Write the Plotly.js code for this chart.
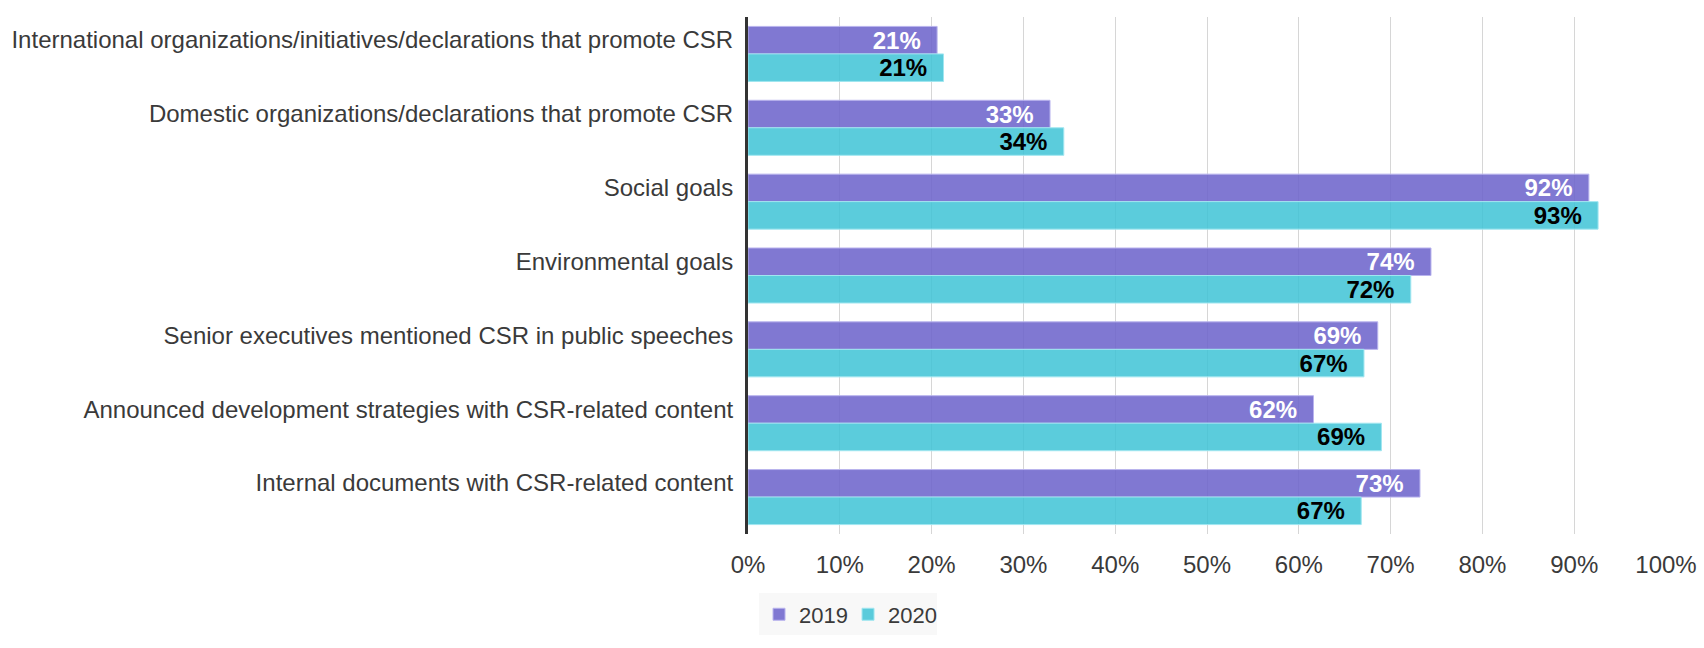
<!DOCTYPE html>
<html>
<head>
<meta charset="utf-8">
<script src="https://cdn.plot.ly/plotly-3.0.1.min.js"></script>
<style>html,body{margin:0;padding:0;background:#fff;}#chart{width:1704px;height:648px;}</style>
</head>
<body>
<div id="chart"></div>
<script>
const categories = [
  "International organizations/initiatives/declarations that promote CSR",
  "Domestic organizations/declarations that promote CSR",
  "Social goals",
  "Environmental goals",
  "Senior executives mentioned CSR in public speeches",
  "Announced development strategies with CSR-related content",
  "Internal documents with CSR-related content"
];
const values2019 = [20.6, 32.9, 91.6, 74.4, 68.6, 61.6, 73.2];
const values2020 = [21.3, 34.4, 92.6, 72.2, 67.1, 69.0, 66.8];
const tickValues = [0, 10, 20, 30, 40, 50, 60, 70, 80, 90, 100];
const tickLabels = ["0%", "10%", "20%", "30%", "40%", "50%", "60%", "70%", "80%", "90%", "100%"];

const pad = '\u00a0\u00a0';
const traces = [
  {
    type: 'bar', orientation: 'h', name: '2019',
    y: categories, x: values2019,
    marker: {color: 'rgba(110,101,204,0.88)', line: {color: 'rgba(185,180,238,1)', width: 1}},
    texttemplate: '%{x:.0f}%' + pad, textposition: 'inside', insidetextanchor: 'end',
    constraintext: 'none', cliponaxis: false,
    textfont: {family: 'Liberation Sans, Arial, sans-serif', size: 24, color: '#ffffff', weight: 'bold'},
    hoverinfo: 'x+y'
  },
  {
    type: 'bar', orientation: 'h', name: '2020',
    y: categories, x: values2020,
    marker: {color: 'rgba(64,196,214,0.86)', line: {color: 'rgba(160,230,240,1)', width: 1}},
    texttemplate: '%{x:.0f}%' + pad, textposition: 'inside', insidetextanchor: 'end',
    constraintext: 'none', cliponaxis: false,
    textfont: {family: 'Liberation Sans, Arial, sans-serif', size: 24, color: '#000000', weight: 'bold'},
    hoverinfo: 'x+y'
  }
];

const layout = {
  width: 1704, height: 648,
  margin: {l: 748, r: 38, t: 17, b: 111},
  paper_bgcolor: '#ffffff', plot_bgcolor: '#ffffff',
  font: {family: 'Liberation Sans, Arial, sans-serif', size: 24, color: '#3a3a3a'},
  barmode: 'group', bargap: 0.255, bargroupgap: 0,
  showlegend: true,
  legend: {
    orientation: 'h', x: 0.012, xanchor: 'left', y: -0.115, yanchor: 'top',
    bgcolor: '#f8f8f8', font: {size: 22, color: '#3a3a3a'},
    traceorder: 'normal', itemwidth: 30, entrywidth: 44, entrywidthmode: 'pixels'
  },
  xaxis: {
    range: [0, 100], tickvals: tickValues, ticktext: tickLabels,
    showgrid: true, gridcolor: '#d6d6d6', gridwidth: 1,
    zeroline: false, showline: false, ticks: '', ticklabelstandoff: 14,
    tickfont: {size: 24, color: '#3a3a3a'}, fixedrange: true
  },
  yaxis: {
    type: 'category', autorange: 'reversed',
    showline: true, linecolor: '#333333', linewidth: 3,
    showgrid: false, zeroline: false, ticks: '', ticklabelstandoff: 7,
    ticklabelshift: 14,
    tickfont: {size: 24, color: '#3a3a3a'}, fixedrange: true
  }
};

Plotly.newPlot('chart', traces, layout, {displayModeBar: false, staticPlot: true});
</script>
</body>
</html>
